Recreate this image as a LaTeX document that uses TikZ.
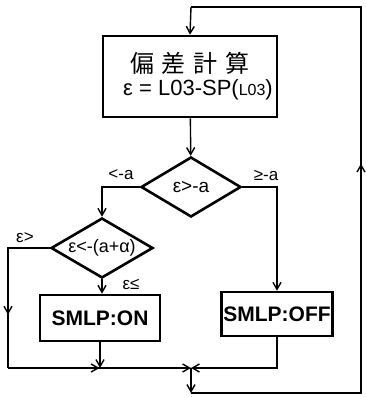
\documentclass[tikz,border=0pt]{standalone}
\usepackage{fontspec}
\setmainfont{Liberation Sans}
\newfontfamily\jpfont{Noto Sans CJK JP}
\usetikzlibrary{arrows.meta,shapes.geometric,decorations.markings}

\tikzset{
  procbox/.style={draw,line width=2.6pt,inner sep=0pt,align=center},
  testbox/.style={draw,diamond,line width=2.6pt,inner sep=0pt,aspect=1.67,
    minimum width=100,minimum height=60,font=\fontsize{19}{22}\selectfont},
  branchlabel/.style={font=\fontsize{17}{20}\selectfont,inner sep=1pt},
  midarrow/.style={postaction={decorate},
    decoration={markings,mark=at position #1 with {\arrow{Straight Barb[length=7pt,width=8pt]}}}},
}

\begin{document}
\begin{tikzpicture}[x=1pt,y=1pt,>={Straight Barb[length=7pt,width=8pt]},line width=1.4pt]
  \useasboundingbox (0,0) rectangle (366,397);

  % process boxes and tests
  \node[procbox,minimum width=174,minimum height=81] (calc) at (190,320.5)
    {{\jpfont\fontsize{24}{27}\selectfont 偏\hspace{8pt}差\hspace{8pt}計\hspace{8pt}算}\\[4pt]
     \hspace*{16pt}{\fontsize{22}{25}\selectfont ε = L03-SP({\fontsize{16}{18}\selectfont L03})}};
  \node[testbox] (test1) at (191,210) {ε>-a};
  \node[testbox,minimum width=102,font=\fontsize{18}{21}\selectfont] (test2) at (102,149) {ε<-(a+α)};
  \node[procbox,minimum width=120,minimum height=46,font=\bfseries\fontsize{21}{24}\selectfont] (on) at (100,79) {SMLP:ON};
  \node[procbox,minimum width=111,minimum height=44,font=\bfseries\fontsize{21}{24}\selectfont] (off) at (277,83) {SMLP:OFF};

  % branch labels
  \node[branchlabel] (lessa) at (121,222) {<-a};
  \node[branchlabel] (geqa) at (266,222) {≥-a};
  \node[branchlabel] (epsgt) at (25,159) {ε>};
  \node[branchlabel] (epsle) at (131,113) {ε≤};

  % loop corners
  \coordinate (merge) at (191,29);
  \coordinate (leftbot) at (8,29);
  \coordinate (botl) at (191,4);
  \coordinate (botr) at (361,4);
  \coordinate (topr) at (361,390);
  \coordinate (topl) at (191,390);

  % connectors
  \draw[->] (calc) -- (test1);
  \draw[->] (test1.west) -| (test2.north);
  \draw[->] (test1.east) -| (off.north);
  \draw[->] (test2.south) -- (test2.south |- on.north);
  \draw[midarrow=0.67] (test2.west) -| (leftbot);
  \draw[->,midarrow=0.5] (leftbot) -- (merge);
  \draw[->] (on.south) -- (on.south |- merge);
  \draw[->] (off.south) |- (merge);
  \draw[->] (merge) -- (botl);
  \draw[midarrow=0.55] (botl) -- (botr) -- (topr) -- (topl);
  \draw[->] (topl) -- (calc.north);
\end{tikzpicture}
\end{document}
